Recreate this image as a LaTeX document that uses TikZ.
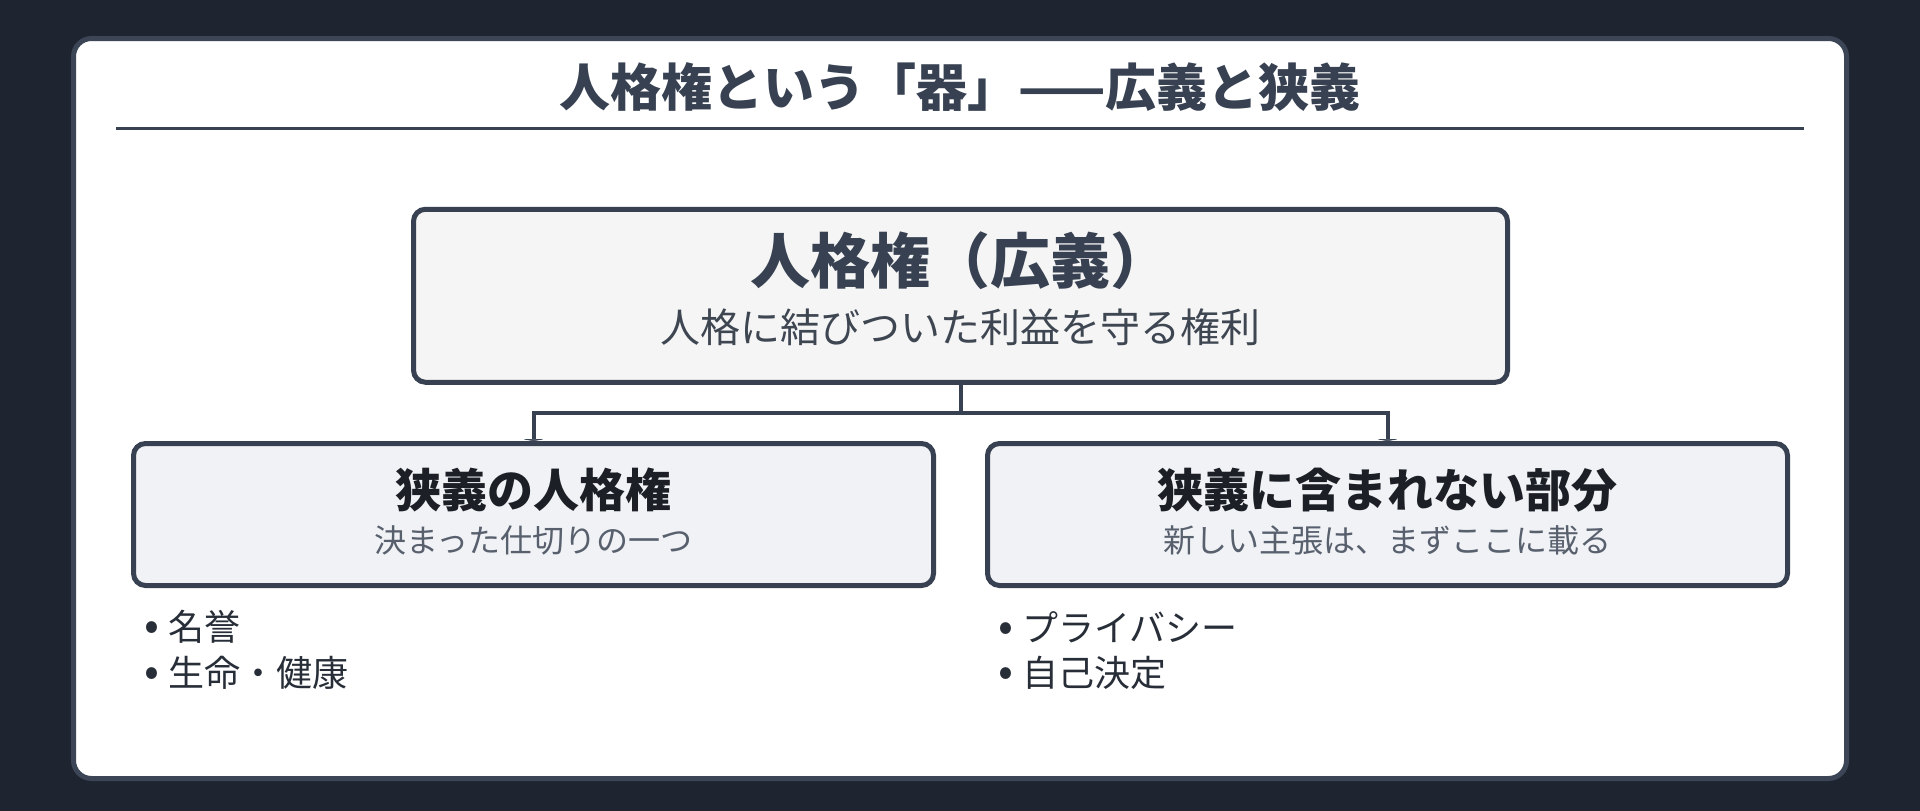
\documentclass[tikz,border=0pt]{standalone}
\usepackage{fontspec}
\setmainfont{Noto Sans CJK JP}
\usepackage{tikz}
\usetikzlibrary{arrows.meta}
\definecolor{Bg}{RGB}{30,37,48}
\definecolor{Edge}{RGB}{59,69,85}
\definecolor{Slate}{RGB}{55,65,81}
\definecolor{Ink}{RGB}{28,32,38}
\definecolor{SubInk}{RGB}{88,96,110}
\definecolor{BroadSub}{RGB}{62,70,82}
\definecolor{ListInk}{RGB}{40,46,56}
\definecolor{BroadFill}{RGB}{245,245,245}
\definecolor{NarrowFill}{RGB}{240,242,245}

\newcommand{\dotitem}[1]{{\fontsize{44}{44}\selectfont •}\hspace{9pt}#1}

\tikzset{
  panel/.style={draw=Edge, fill=white, line width=5pt, rounded corners=18pt,
                minimum width=1773pt, minimum height=740pt, inner sep=0pt},
  heading/.style={text=Slate, font=\fontsize{51}{56}\selectfont\bfseries, inner sep=0pt},
  rule/.style={draw=Slate, line width=2.5pt},
  broadbox/.style={draw=Slate, fill=BroadFill, line width=5pt, rounded corners=12pt,
                   minimum width=1094pt, minimum height=173pt, inner sep=0pt},
  narrowbox/.style={draw=Slate, fill=NarrowFill, line width=5pt, rounded corners=12pt,
                    minimum width=800pt, minimum height=142pt, inner sep=0pt},
  broadtitle/.style={text=Slate, font=\fontsize{60}{66}\selectfont\bfseries, inner sep=0pt},
  broadsub/.style={text=BroadSub, font=\fontsize{40}{46}\selectfont, inner sep=0pt},
  boxtitle/.style={text=Ink, font=\fontsize{46}{52}\selectfont\bfseries, inner sep=0pt},
  boxsub/.style={text=SubInk, font=\fontsize{32}{38}\selectfont, inner sep=0pt},
  item/.style={text=ListInk, font=\fontsize{36}{42}\selectfont, anchor=west, inner sep=0pt},
  link/.style={draw=Slate, line width=4pt, -{Triangle[length=2pt,width=24pt]}}
}

\begin{document}
\begin{tikzpicture}[x=1pt,y=-1pt]
  \useasboundingbox[fill=Bg] (0,0) rectangle (1920,811);
  \node[panel] (card) at (960,408.5) {};

  % heading
  \node[heading] (head) at (960,87) {人格権という「器」——広義と狭義};
  \draw[rule] (116,128.5) -- (1804,128.5);

  % boxes
  \node[broadbox] (broad) at (960.5,295.75) {};
  \node[broadtitle] (broadT) at (960.5,261) {人格権（広義）};
  \node[broadsub] (broadS) at (960.5,327) {人格に結びついた利益を守る権利};

  \node[narrowbox] (narrow) at (533.5,514.5) {};
  \node[boxtitle] (narrowT) at (533.5,490) {狭義の人格権};
  \node[boxsub] (narrowS) at (533.5,540) {決まった仕切りの一つ};

  \node[narrowbox] (beyond) at (1387.5,514.5) {};
  \node[boxtitle] (beyondT) at (1387.5,490) {狭義に含まれない部分};
  \node[boxsub] (beyondS) at (1387.5,540) {新しい主張は、まずここに載る};

  % connectors
  \draw[link] (broad.south) -- ++(0,28) coordinate (hub) -| (narrow.north);
  \draw[link] (hub) -| (beyond.north);

  % lists
  \node[item] (honor) at (144,627) {\dotitem{名誉}};
  \node[item] (life) at (144,673) {\dotitem{生命・健康}};
  \node[item] (privacy) at (998,627) {\dotitem{プライバシー}};
  \node[item] (self) at (998,673) {\dotitem{自己決定}};
\end{tikzpicture}
\end{document}
